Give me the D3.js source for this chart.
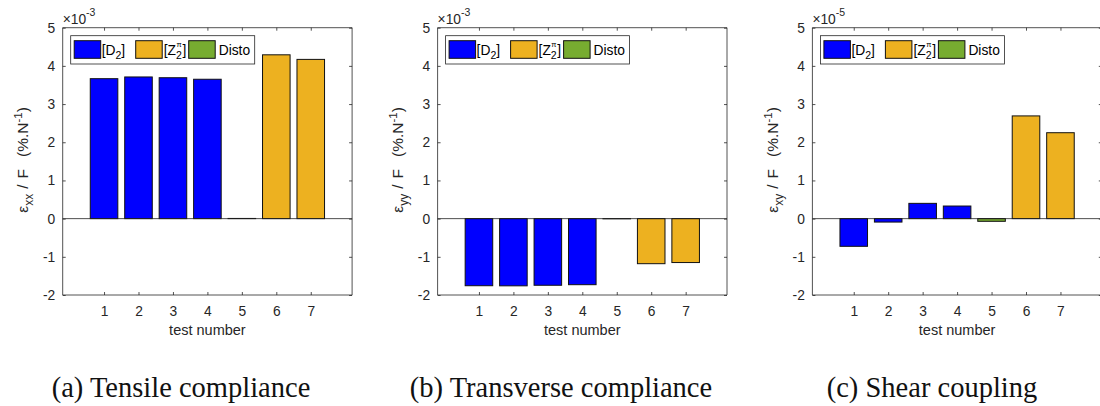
<!DOCTYPE html>
<html><head><meta charset="utf-8">
<script src="https://cdn.jsdelivr.net/npm/d3@7"></script>
<style>body{margin:0;background:#fff}svg{display:block}</style>
</head><body>
<svg id="c" width="1100" height="406"></svg>
<script>
// ---- data ----
const testNumbers = [1, 2, 3, 4, 5, 6, 7];
const testGroup = ["D2", "D2", "D2", "D2", "Disto", "Z2pi", "Z2pi"];
const tensile = [3.665, 3.71, 3.69, 3.65, 0.005, 4.29, 4.17];        // x1e-3
const transverse = [-1.757, -1.76, -1.745, -1.73, -0.005, -1.18, -1.15]; // x1e-3
const shear = [-0.725, -0.09, 0.40, 0.33, -0.07, 2.69, 2.25];         // x1e-5
const yTicks = [-2, -1, 0, 1, 2, 3, 4, 5];
const exponents = ["-3", "-3", "-5"];
const ySubs = ["xx", "yy", "xy"];
const captions = ["(a) Tensile compliance", "(b) Transverse compliance", "(c) Shear coupling"];
const groupColors = {D2: "#0000FF", Z2pi: "#EDB120", Disto: "#77AC30"};

(function () {
const series = [tensile, transverse, shear];
const svg = d3.select("#c");
svg.append("rect").attr("width", 1100).attr("height", 406).attr("fill", "#fff");

const axisLefts = [62.7, 437.6, 812.4];
const W = 289.4, yTop = 27.7, yBottom = 295;
const axCol = "#262626";
const sans = "'Liberation Sans', Arial, sans-serif";
const fs = 13.8;

series.forEach((vals, p) => {
  const L = axisLefts[p];
  const x = d3.scaleLinear().domain([-0.2, 8.2]).range([L, L + W]);
  const y = d3.scaleLinear().domain([-2, 5]).range([yBottom, yTop]);
  const g = svg.append("g");
  const bw = (x(0.8) - x(0));

  g.selectAll("rect.bar").data(vals).enter().append("rect")
    .attr("x", (d, i) => x(testNumbers[i]) - bw / 2)
    .attr("width", bw)
    .attr("y", d => y(Math.max(0, d)))
    .attr("height", d => Math.abs(y(d) - y(0)))
    .attr("fill", (d, i) => groupColors[testGroup[i]])
    .attr("stroke", "#111").attr("stroke-width", 1);

  g.append("line").attr("x1", L).attr("x2", L + W).attr("y1", y(0)).attr("y2", y(0))
    .attr("stroke", "#222").attr("stroke-width", 0.8);

  const fmt = d => String(d);
  const ax = g.append("g").attr("transform", `translate(${L},0)`)
    .call(d3.axisLeft(y).tickValues(yTicks).tickSize(-3).tickPadding(7).tickFormat(fmt));
  const ax2 = g.append("g").attr("transform", `translate(${L + W},0)`)
    .call(d3.axisRight(y).tickValues(yTicks).tickSize(-3).tickFormat(""));
  const ax3 = g.append("g").attr("transform", `translate(0,${yBottom})`)
    .call(d3.axisBottom(x).tickValues(testNumbers).tickSize(-3).tickPadding(11.3).tickFormat(fmt));
  const ax4 = g.append("g").attr("transform", `translate(0,${yTop})`)
    .call(d3.axisTop(x).tickValues(testNumbers).tickSize(-3).tickFormat(""));
  [ax, ax2, ax3, ax4].forEach(a => {
    a.select(".domain").attr("stroke", axCol).attr("stroke-width", 0.8);
    a.selectAll(".tick line").attr("stroke", axCol).attr("stroke-width", 0.8);
    a.selectAll("text").attr("font-family", sans).attr("font-size", fs + "px").attr("fill", axCol);
  });
  ax.select(".domain").attr("d", `M0,${yTop}V${yBottom}`);
  ax2.select(".domain").attr("d", `M0,${yTop}V${yBottom}`);
  ax3.select(".domain").attr("d", `M${L},0H${L + W}`);
  ax4.select(".domain").attr("d", `M${L},0H${L + W}`);
  ax.selectAll(".tick text").attr("x", -7.5);

  const ex = g.append("text").attr("x", L).attr("y", 24)
    .attr("font-family", sans).attr("font-size", fs + "px").attr("fill", axCol);
  ex.append("tspan").text("\u00d710");
  ex.append("tspan").attr("dy", -8).attr("font-size", "10.5px").text(exponents[p]);

  const cy = (yTop + yBottom) / 2 - 1.5;
  const yl = g.append("text").attr("transform", `translate(${L - 34.4},${cy}) rotate(-90)`)
    .attr("text-anchor", "middle").attr("font-family", sans).attr("font-size", "15.5px")
    .attr("fill", axCol);
  yl.append("tspan").text("\u03b5");
  yl.append("tspan").attr("dy", 4.5).attr("font-size", "12px").text(ySubs[p]);
  yl.append("tspan").attr("dy", -4.5).attr("dx", 5).text("/");
  yl.append("tspan").attr("dx", 6).text("F");
  yl.append("tspan").attr("dx", 12).text("(%.N");
  yl.append("tspan").attr("dy", -6).attr("font-size", "11.5px").text("-1");
  yl.append("tspan").attr("dy", 6).text(")");

  g.append("text").attr("x", L + W / 2).attr("y", 334.5).attr("text-anchor", "middle")
    .attr("font-family", sans).attr("font-size", "14.5px").attr("fill", axCol).text("test number");

  const lx = L + 8, ly = 35.7, lh = 28.3, lw = 184;
  const lg = g.append("g");
  lg.append("rect").attr("x", lx).attr("y", ly).attr("width", lw).attr("height", lh)
    .attr("fill", "#fff").attr("stroke", axCol).attr("stroke-width", 0.8);
  const items = [
    {k: "D2", sx: 3.5, tx: 31},
    {k: "Z2pi", sx: 65, tx: 93},
    {k: "Disto", sx: 118, tx: 148}
  ];
  const tb = ly + 19.5;
  items.forEach(it => {
    lg.append("rect").attr("x", lx + it.sx).attr("y", ly + 5).attr("width", 26.5).attr("height", 17.6)
      .attr("fill", groupColors[it.k]).attr("stroke", "#111").attr("stroke-width", 1);
    const t = lg.append("text").attr("x", lx + it.tx).attr("y", tb)
      .attr("font-family", sans).attr("font-size", fs + "px").attr("fill", "#000");
    if (it.k === "D2") {
      t.append("tspan").text("[D");
      t.append("tspan").attr("dy", 4).attr("font-size", "10.5px").text("2");
      t.append("tspan").attr("dy", -4).text("]");
    } else if (it.k === "Disto") {
      t.text("Disto");
    } else {
      t.text("[Z");
      const w = t.node().getComputedTextLength();
      lg.append("text").attr("x", lx + it.tx + w).attr("y", tb + 4)
        .attr("font-family", sans).attr("font-size", "10.5px").attr("fill", "#000").text("2");
      lg.append("text").attr("x", lx + it.tx + w + 0.5).attr("y", tb - 8)
        .attr("font-family", sans).attr("font-size", "7.5px").attr("fill", "#000").text("\u03c0");
      lg.append("text").attr("x", lx + it.tx + w + 6.5).attr("y", tb)
        .attr("font-family", sans).attr("font-size", fs + "px").attr("fill", "#000").text("]");
    }
  });
});

const capCenters = [181, 561, 932];
captions.forEach((c, i) => {
  svg.append("text").attr("x", capCenters[i]).attr("y", 397).attr("text-anchor", "middle")
    .attr("font-family", "'Liberation Serif', 'Times New Roman', serif").attr("font-size", "28.5px")
    .attr("fill", "#111").text(c);
});
})();
</script>
</body></html>
